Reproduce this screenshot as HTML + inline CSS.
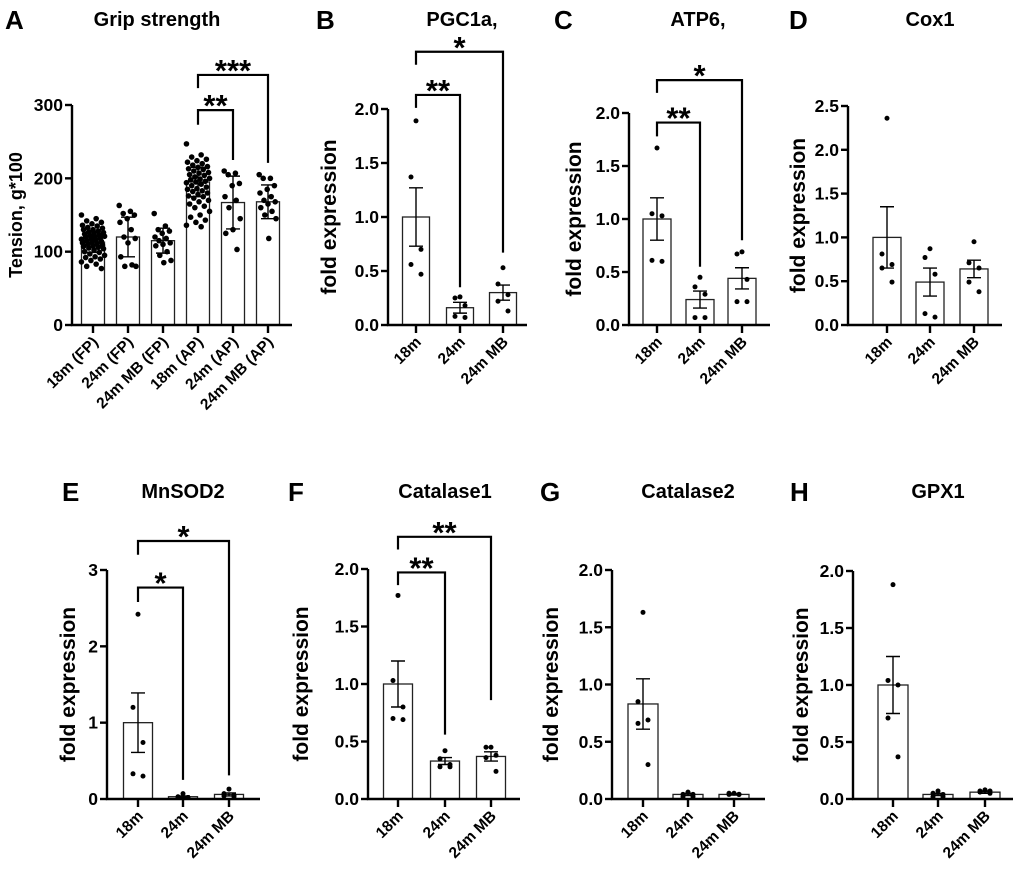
<!DOCTYPE html>
<html><head><meta charset="utf-8"><style>
body{margin:0;background:#fff}
svg text{font-family:"Liberation Sans",Arial,sans-serif;font-weight:bold;fill:#000}
</style></head><body>
<svg id="fig" width="1020" height="876" viewBox="0 0 1020 876" xmlns="http://www.w3.org/2000/svg"></svg>
<script>
// ---- data ----
const catsA = ["18m (FP)","24m (FP)","24m MB (FP)","18m (AP)","24m (AP)","24m MB (AP)"];
const catsE = ["18m","24m","24m MB"];
const meansA = [113,120,115,195,167,168];
const errA = [14,27,17,20,36,23];
const ptsA = [
 [150,145,142,140,138,136,135,133,132,130,130,128,127,126,125,124,123,122,121,120,120,119,118,117,116,115,114,113,112,111,110,109,108,107,106,105,104,102,100,99,97,95,93,92,90,88,86,83,80,77],
 [163,155,152,150,145,140,130,120,118,112,93,82,80,80],
 [152,135,130,128,125,120,118,115,112,110,108,100,95,88,85],
 [247,232,229,226,224,222,220,218,216,215,213,212,210,208,207,205,204,202,200,199,198,196,195,194,192,190,188,186,185,183,182,180,178,176,175,173,170,168,165,162,160,155,150,147,143,140,136,134],
 [210,207,205,193,190,175,170,160,145,130,125,103],
 [205,200,200,190,185,180,175,170,168,165,160,155,150,145,118]
];
const meansB=[1.0,0.16,0.30], semB=[0.27,0.05,0.07];
const ptsB=[[1.89,1.37,0.70,0.56,0.47],[0.26,0.25,0.18,0.08,0.07],[0.53,0.38,0.28,0.22,0.13]];
const meansC=[1.0,0.24,0.44], semC=[0.2,0.08,0.1];
const ptsC=[[1.67,1.05,1.03,0.61,0.60],[0.45,0.36,0.29,0.07,0.07],[0.69,0.67,0.43,0.22,0.22]];
const meansD=[1.0,0.49,0.64], semD=[0.35,0.16,0.1];
const ptsD=[[2.36,0.81,0.69,0.65,0.49],[0.87,0.77,0.58,0.13,0.09],[0.95,0.71,0.65,0.49,0.38]];
const meansE=[1.0,0.03,0.06], semE=[0.39,0.01,0.02];
const ptsE=[[2.42,1.2,0.74,0.33,0.3],[0.07,0.03,0.02,0.02,0.02],[0.13,0.07,0.05,0.04,0.03]];
const meansF=[1.0,0.33,0.37], semF=[0.2,0.03,0.04];
const ptsF=[[1.77,1.03,0.8,0.7,0.69],[0.42,0.35,0.3,0.28,0.28],[0.45,0.45,0.38,0.36,0.24]];
const meansG=[0.83,0.04,0.04], semG=[0.22,0.01,0.005];
const ptsG=[[1.63,0.85,0.69,0.66,0.3],[0.06,0.04,0.04,0.02,0.02],[0.05,0.05,0.04,0.04,0.04]];
const meansH=[1.0,0.04,0.06], semH=[0.25,0.01,0.01];
const ptsH=[[1.88,1.04,1.0,0.71,0.37],[0.07,0.05,0.04,0.02,0.02],[0.08,0.07,0.07,0.06,0.05]];
const ticks2=[0,0.5,1.0,1.5,2.0], ticks25=[0,0.5,1.0,1.5,2.0,2.5], ticks3=[0,1,2,3], ticksA=[0,100,200,300];
// brackets: [from, to, top, leftEnd, rightEnd, label] in data units
const brA=[[3,4,293,273,225,"**"],[3,5,341,323,221,"***"]];
const brB=[[0,1,2.13,2.01,0.35,"**"],[0,2,2.53,2.41,0.67,"*"]];
const brC=[[0,1,1.91,1.78,0.55,"**"],[0,2,2.31,2.19,0.8,"*"]];
const brE=[[0,1,2.77,2.58,0.25,"*"],[0,2,3.38,3.2,0.31,"*"]];
const brF=[[0,1,1.97,1.86,0.56,"**"],[0,2,2.28,2.17,0.86,"**"]];

const NS="http://www.w3.org/2000/svg", svg=document.getElementById('fig');
function el(tag,attrs,parent,text){const e=document.createElementNS(NS,tag);for(const k in attrs)e.setAttribute(k,attrs[k]);if(text!==undefined)e.textContent=text;(parent||svg).appendChild(e);return e;}
const jit=[0,-5,5,-5,5,0,-8,8,-3,3];

function panel(p){
  const g=el('g',{});  
  const ys=v=>p.y0-(v/p.max)*(p.y0-p.ytop);
  const xs=i=>p.cx[i];
  const L=el('text',{x:p.lx,y:p.ty+3,'font-size':26},g,p.letter);  
  const T=el('text',{x:p.tcx,y:p.ty,'font-size':20,'text-anchor':'middle'},g,p.title);  
  p.means.forEach((m,i)=>{
    const b=el('rect',{x:xs(i)-p.bw/2,y:ys(m),width:p.bw,height:p.y0-ys(m),fill:'#fff',stroke:'#222','stroke-width':1.3},g);
     
  });
  p.pts.forEach((arr,i)=>{
    const n=arr.length;
    arr.forEach((v,j)=>{
    const off=p.many?(((j*14)%23)-11)*(n>20?1.05:0.8):jit[j];
    const d=el('circle',{cx:xs(i)+off,cy:ys(v),r:p.many?2.8:2.5,fill:'#000'},g);
     
  });});
  p.means.forEach((m,i)=>{
    const e=p.err[i],x=xs(i),w=7;
    const eg=el('path',{d:`M${x},${ys(m+e)}V${ys(Math.max(0,m-e))}M${x-w},${ys(m+e)}H${x+w}M${x-w},${ys(Math.max(0,m-e))}H${x+w}`,stroke:'#000','stroke-width':1.4,fill:'none'},g);
     
  });
  const ax=el('path',{d:`M${p.ax},${ys(p.ticks[p.ticks.length-1])}V${p.y0}H${p.axEnd}`,stroke:'#000','stroke-width':2.4,fill:'none'},g);
   
  p.ticks.forEach((t,k)=>{
    el('line',{x1:p.ax-7,x2:p.ax,y1:ys(t),y2:ys(t),stroke:'#000','stroke-width':2.4},g);
    const tl=el('text',{x:p.ax-9,y:ys(t)+6,'font-size':17.5,'text-anchor':'end'},g,p.tickLabels[k]);
     
  });
  p.cats.forEach((c,i)=>{
    el('line',{x1:xs(i),x2:xs(i),y1:p.y0,y2:p.y0+8,stroke:'#000','stroke-width':2.4},g);
    const xl=el('text',{x:0,y:0,'font-size':15.5,'text-anchor':'end',transform:`translate(${xs(i)+6},${p.y0+18}) rotate(-45)`},g,c);
     
  });
  const yt=el('text',{x:0,y:0,'font-size':p.ytSize,'text-anchor':'middle',transform:`translate(${p.ytx},${(p.y0+ys(p.ticks[p.ticks.length-1]))/2}) rotate(-90)`},g,p.ytitle);
   
  (p.br||[]).forEach(b=>{
    const x1=xs(b[0]),x2=xs(b[1]);
    const bp=el('path',{d:`M${x1},${ys(b[3])}V${ys(b[2])}H${x2}V${ys(b[4])}`,stroke:'#000','stroke-width':2.2,fill:'none'},g);
     
    const st=el('text',{x:(x1+x2)/2,y:ys(b[2])+6,'font-size':31,'text-anchor':'middle'},g,b[5]);
     
  });
}
const fmt2=t=>t.toFixed(1);
panel({letter:'A',title:'Grip strength',lx:5,ty:26,tcx:157,cats:catsA,means:meansA,err:errA,pts:ptsA,many:true,cx:[93,128,163,198,233,268],bw:23,ax:72,axEnd:292,y0:325,ytop:105,max:300,ticks:ticksA,tickLabels:ticksA.map(String),ytitle:'Tension, g*100',ytx:22,ytSize:18,br:brA});
panel({letter:'B',title:'PGC1a,',lx:316,ty:26,tcx:462,cats:catsE,means:meansB,err:semB,pts:ptsB,cx:[416,460,503],bw:27,ax:388,axEnd:527,y0:325,ytop:109,max:2,ticks:ticks2,tickLabels:ticks2.map(fmt2),ytitle:'fold expression',ytx:336,ytSize:21,br:brB});
panel({letter:'C',title:'ATP6,',lx:554,ty:26,tcx:698,cats:catsE,means:meansC,err:semC,pts:ptsC,cx:[657,700,742],bw:28,ax:629,axEnd:770,y0:325,ytop:113,max:2,ticks:ticks2,tickLabels:ticks2.map(fmt2),ytitle:'fold expression',ytx:581,ytSize:21,br:brC});
panel({letter:'D',title:'Cox1',lx:789,ty:26,tcx:930,cats:catsE,means:meansD,err:semD,pts:ptsD,cx:[887,930,974],bw:28,ax:848,axEnd:1002,y0:325,ytop:106,max:2.5,ticks:ticks25,tickLabels:ticks25.map(fmt2),ytitle:'fold expression',ytx:805,ytSize:21});
panel({letter:'E',title:'MnSOD2',lx:62,ty:498,tcx:183,cats:catsE,means:meansE,err:semE,pts:ptsE,cx:[138,183,229],bw:29,ax:107,axEnd:260,y0:799,ytop:570,max:3,ticks:ticks3,tickLabels:ticks3.map(String),ytitle:'fold expression',ytx:75,ytSize:21,br:brE});
panel({letter:'F',title:'Catalase1',lx:288,ty:498,tcx:445,cats:catsE,means:meansF,err:semF,pts:ptsF,cx:[398,445,491],bw:29,ax:368,axEnd:520,y0:799,ytop:569,max:2,ticks:ticks2,tickLabels:ticks2.map(fmt2),ytitle:'fold expression',ytx:308,ytSize:21,br:brF});
panel({letter:'G',title:'Catalase2',lx:540,ty:498,tcx:688,cats:catsE,means:meansG,err:semG,pts:ptsG,cx:[643,688,734],bw:30,ax:612,axEnd:765,y0:799,ytop:570,max:2,ticks:ticks2,tickLabels:ticks2.map(fmt2),ytitle:'fold expression',ytx:558,ytSize:21});
panel({letter:'H',title:'GPX1',lx:790,ty:498,tcx:938,cats:catsE,means:meansH,err:semH,pts:ptsH,cx:[893,938,985],bw:30,ax:853,axEnd:1013,y0:799,ytop:571,max:2,ticks:ticks2,tickLabels:ticks2.map(fmt2),ytitle:'fold expression',ytx:808,ytSize:21});
</script>
</body></html>
